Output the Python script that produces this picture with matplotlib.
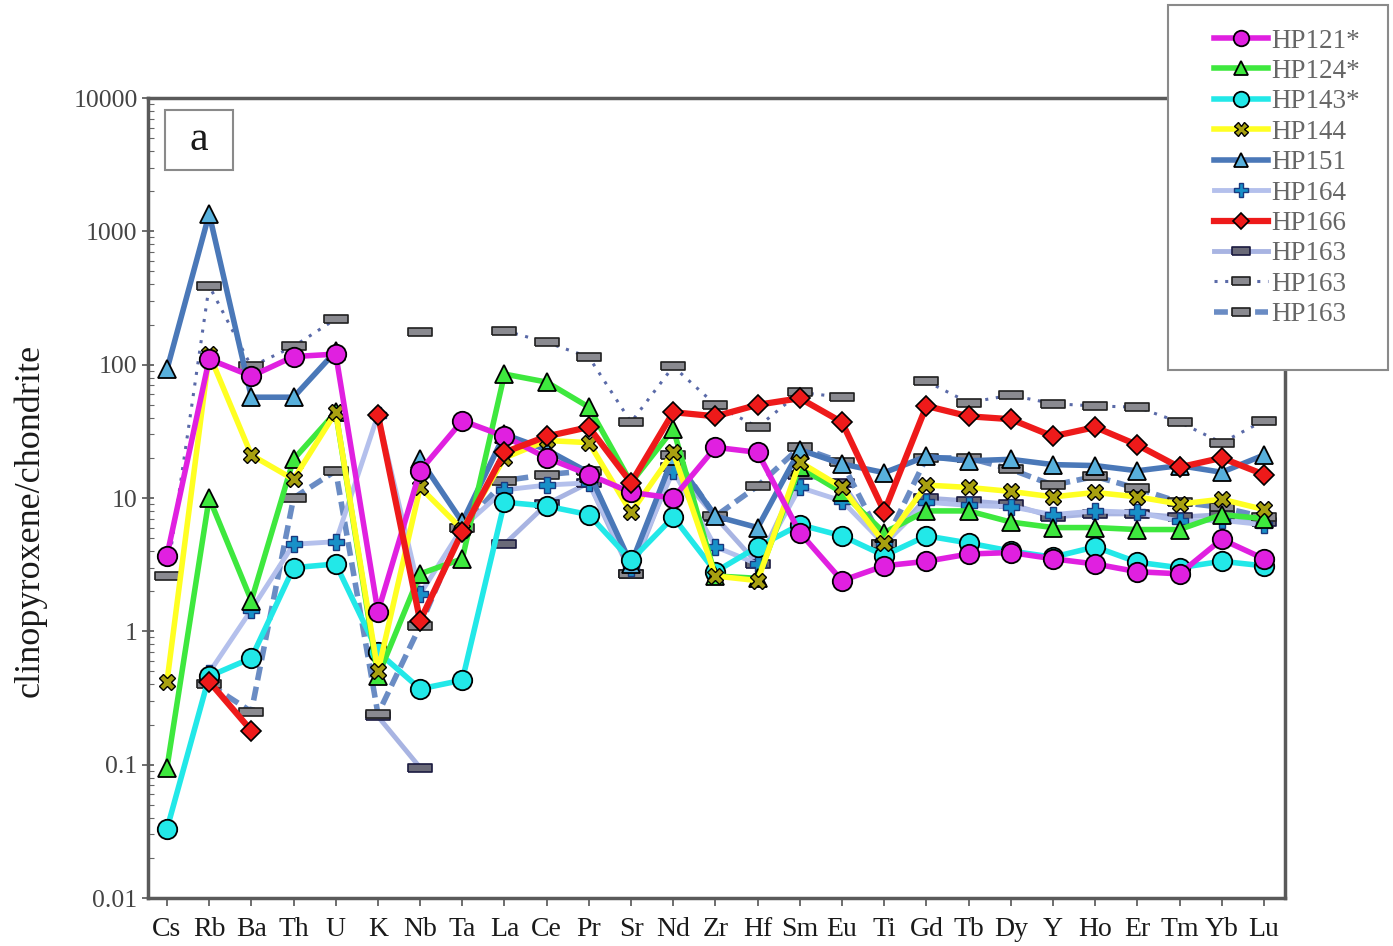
import numpy as np
import matplotlib
matplotlib.use('Agg')
import matplotlib.pyplot as plt
from matplotlib.patches import Rectangle

plt.rcParams['font.family'] = ['Liberation Serif', 'DejaVu Serif']

nan = np.nan
elements = ['Cs', 'Rb', 'Ba', 'Th', 'U', 'K', 'Nb', 'Ta', 'La', 'Ce', 'Pr', 'Sr', 'Nd', 'Zr',
            'Hf', 'Sm', 'Eu', 'Ti', 'Gd', 'Tb', 'Dy', 'Y', 'Ho', 'Er', 'Tm', 'Yb', 'Lu']

# clinopyroxene / chondrite
hp121 = [3.7, 110, 82, 115, 120, 1.4, 16, 38, 29, 20, 15, 11, 10, 24, 22, 5.5, 2.4, 3.1,
         3.35, 3.8, 3.9, 3.5, 3.2, 2.8, 2.7, 4.9, 3.5]
hp124 = [0.095, 10, 1.7, 19.5, 44, 0.46, 2.7, 3.5, 85, 74, 48, 13, 33, 2.6, 2.5, 17, 11, 5.5,
         8.0, 8.0, 6.6, 6.0, 6.0, 5.8, 5.8, 7.5, 7.0]
hp143 = [0.033, 0.46, 0.63, 3.0, 3.2, 0.7, 0.37, 0.43, 9.3, 8.7, 7.5, 3.4, 7.2, 2.8, 4.3, 6.3,
         5.2, 3.7, 5.2, 4.6, 4.0, 3.6, 4.3, 3.3, 3.0, 3.35, 3.1]
hp144 = [0.42, 120, 21, 13.8, 44, 0.5, 12, 5.8, 20, 27, 26, 7.8, 22, 2.6, 2.4, 18.6, 12, 4.6,
         12.5, 12, 11.2, 10.2, 11, 10.2, 9, 9.8, 8.2]
hp151 = [92, 1350, 57, 57, 126, nan, 19.5, 6.6, 30, 23, 15.5, 3.2, 20.5, 7.3, 6.0, 23, 18, 15.5,
         20.5, 19, 19.5, 17.8, 17.5, 16, 17.5, 15.6, 21]
hp164 = [nan, 0.49, 1.45, 4.5, 4.7, 42, 1.9, 6.0, 11.5, 12.5, 13, 3.0, 16, 4.3, 3.2, 12, 9.5,
         4.5, 9.3, 8.8, 8.6, 7.5, 8.0, 7.8, 6.7, 6.8, 6.3]
hp166 = [nan, 0.42, 0.18, nan, nan, 42, 1.2, 5.6, 22, 29, 34, 13, 44, 41, 50, 56, 37, 7.9,
         49, 41, 39, 29, 34, 25, 17, 20, 15]
hp163_a = [nan, nan, nan, nan, nan, 0.23, 0.095, nan, 4.5, 9.0, 13, 2.7, 17, 7.2, 3.2, 15, 13,
           4.5, 10, 9.5, 9.0, 7.2, 7.6, 7.6, 7.2, 7.5, 6.6]
hp163_b = [2.6, 390, 97, 137, 220, nan, 175, nan, 180, 147, 114, 37, 97, 50, 34, 62, 57, nan,
           75, 52, 59, 51, 49, 48, 37, 26, 38]
hp163_c = [nan, 0.4, 0.25, 10, 16, 0.24, 1.1, 6.0, 13.5, 15, 16, 2.7, 21, 7.3, 12.3, 24, 18.5,
           4.5, 20, 20, 16.4, 12.5, 14.5, 11.8, 9.3, 8.5, 7.2]

# flat grey box marker used for the HP163 runs
box = [(-1, -0.38), (1, -0.38), (1, 0.38), (-1, 0.38), (-1, -0.38)]

# drawn back to front
series = [
    ('HP163 dotted', hp163_b, dict(color='#5a6aa8', ls=(0, (1, 2.5)), lw=2.2, marker=box, ms=17,
                                   mfc='#8a8a90', mec='#202020', mew=1.2)),
    ('HP163 solid', hp163_a, dict(color='#a8b4e2', ls='-', lw=3.5, marker=box, ms=17,
                                  mfc='#6a6a78', mec='#1a1a40', mew=1.2)),
    ('HP163 dashed', hp163_c, dict(color='#6a8cc4', ls=(0, (2.5, 1.2)), lw=4, marker=box, ms=17,
                                   mfc='#8a8a90', mec='#202020', mew=1.2)),
    ('HP164', hp164, dict(color='#b4c0ec', ls='-', lw=3.5, marker='P', ms=12,
                          mfc='#1890c8', mec='#1a3a80', mew=1.0)),
    ('HP151', hp151, dict(color='#4a78b8', ls='-', lw=4, marker='^', ms=13,
                          mfc='#58b0dc', mec='black', mew=1.3)),
    ('HP143*', hp143, dict(color='#22e8e8', ls='-', lw=4, marker='o', ms=14,
                           mfc='#22e8e8', mec='black', mew=1.3)),
    ('HP124*', hp124, dict(color='#3ee83e', ls='-', lw=4, marker='^', ms=13,
                           mfc='#3ee83e', mec='black', mew=1.3)),
    ('HP144', hp144, dict(color='#ffff22', ls='-', lw=4, marker='X', ms=12,
                          mfc='#a8a010', mec='black', mew=1.0)),
    ('HP121*', hp121, dict(color='#e020e0', ls='-', lw=4, marker='o', ms=14,
                           mfc='#e020e0', mec='black', mew=1.3)),
    ('HP166', hp166, dict(color='#ee1a1a', ls='-', lw=4.5, marker='D', ms=10,
                          mfc='#ee1a1a', mec='black', mew=1.2)),
]

fig = plt.figure(figsize=(13.93, 9.46), dpi=100)
ax = fig.add_axes([148 / 1393, 1 - 898 / 946, 1137 / 1393, 800 / 946])

x = np.arange(len(elements))
lines = {}
for key, vals, kw in series:
    lines[key], = ax.plot(x, vals, **kw)

ax.set_yscale('log')
ax.set_ylim(0.01, 10000)
ax.set_xlim(-0.45, 26.5)
ax.set_xticks(x)
ax.set_xticklabels(elements, fontsize=20, color='#1a1a1a')
ax.set_yticks([0.01, 0.1, 1, 10, 100, 1000, 10000])
ax.set_yticklabels(['0.01', '0.1', '1', '10', '100', '1000', '10000'], fontsize=18.5)
ax.tick_params(axis='y', which='major', direction='inout', length=8, width=1.2, colors='#555555',
               labelcolor='#444444')
ax.tick_params(axis='y', which='minor', direction='in', length=4, width=0.8, colors='#666666')
ax.tick_params(axis='x', direction='out', length=6, width=1.2, colors='#555555',
               labelcolor='#1a1a1a', pad=8)
for side in ['left', 'bottom', 'top', 'right']:
    ax.spines[side].set_linewidth(2.5)
    ax.spines[side].set_color('#5a5a5a')

fig.text(30 / 1393, 1 - 520 / 946, 'clinopyroxene/chondrite', rotation=90, fontsize=26,
         ha='center', va='center', color='#1a1a1a')

# panel label
ax.add_patch(Rectangle(((165 - 148) / 1137, (898 - 170) / 800), 68 / 1137, 60 / 800,
                       transform=ax.transAxes, fc='white', ec='#8a8a8a', lw=1.5, zorder=5))
ax.text((199 - 148) / 1137, (898 - 140) / 800, 'a', transform=ax.transAxes, fontsize=30,
        ha='center', va='center', color='#1a1a1a', zorder=6)

# legend frame sits over the top-right corner of the axes
fig.add_artist(Rectangle((1168 / 1393, 1 - 370 / 946), 220 / 1393, 365 / 946,
                         transform=fig.transFigure, fc='white', ec='#8a8a8a', lw=1.5, zorder=10))

leg_keys = ['HP121*', 'HP124*', 'HP143*', 'HP144', 'HP151', 'HP164', 'HP166',
            'HP163 solid', 'HP163 dotted', 'HP163 dashed']
leg_labels = ['HP121*', 'HP124*', 'HP143*', 'HP144', 'HP151', 'HP164', 'HP166',
              'HP163', 'HP163', 'HP163']

leg = fig.legend([lines[k] for k in leg_keys], leg_labels, loc='upper left',
                 bbox_to_anchor=(1200 / 1393, 1 - 15 / 946), frameon=False, fontsize=19.5,
                 labelspacing=0.2, handlelength=2.0, handletextpad=0.15, markerscale=0.8,
                 borderpad=0, labelcolor='#666666')
leg.set_zorder(11)

fig.savefig('out.png', dpi=100)
